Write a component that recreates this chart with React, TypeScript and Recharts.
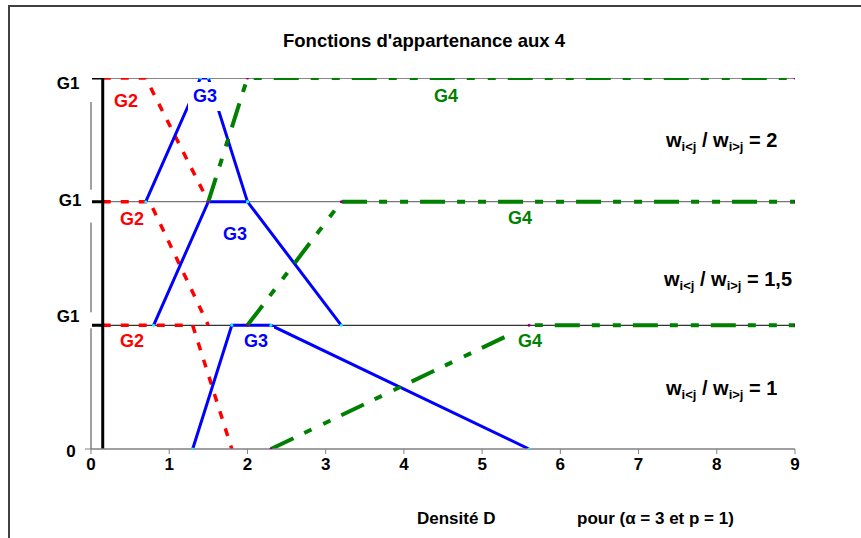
import React from 'react';
import { LineChart, Line, XAxis, YAxis } from 'recharts';

// ---- data ----
const xTicks = [0, 1, 2, 3, 4, 5, 6, 7, 8, 9];
const yTicks = [0, 1, 2, 3];
const yTickLabels = ['0', 'G1', 'G1', 'G1'];

// horizontal reference levels (one per panel)
const level3 = [{ x: 0, y: 3 }, { x: 9, y: 3 }];
const level2 = [{ x: 0, y: 2 }, { x: 9, y: 2 }];
const level1 = [{ x: 0, y: 1 }, { x: 9, y: 1 }];

// G1 membership (black)
const g1Top = [{ x: 0, y: 3 }, { x: 0.15, y: 3 }, { x: 0.15, y: 2 }];
const g1Mid = [{ x: 0, y: 2 }, { x: 0.15, y: 2 }, { x: 0.15, y: 1 }];
const g1Low = [{ x: 0, y: 1 }, { x: 0.15, y: 1 }, { x: 0.15, y: 0 }];

// G2 membership (red dashed)
const g2Top = [{ x: 0.15, y: 3 }, { x: 0.7, y: 3 }, { x: 1.5, y: 2 }];
const g2Mid = [{ x: 0.15, y: 2 }, { x: 0.75, y: 2 }, { x: 1.5, y: 1 }];
const g2Low = [{ x: 0.15, y: 1 }, { x: 1.3, y: 1 }, { x: 1.8, y: 0 }];

// G3 membership (blue)
const g3Top = [{ x: 0.7, y: 2 }, { x: 1.4, y: 3 }, { x: 1.5, y: 3 }, { x: 2, y: 2 }];
const g3Mid = [{ x: 0.8, y: 1 }, { x: 1.5, y: 2 }, { x: 2, y: 2 }, { x: 3.2, y: 1 }];
const g3Low = [{ x: 1.3, y: 0 }, { x: 1.8, y: 1 }, { x: 2.3, y: 1 }, { x: 5.6, y: 0 }];

// G4 membership (green dash-dot)
const g4Top = [{ x: 1.5, y: 2 }, { x: 2, y: 3 }, { x: 9, y: 3 }];
const g4Mid = [{ x: 2, y: 1 }, { x: 3.2, y: 2 }, { x: 9, y: 2 }];
const g4Low = [{ x: 2.3, y: 0 }, { x: 5.6, y: 1 }, { x: 9, y: 1 }];

const FONT = '"Liberation Sans", Arial, Helvetica, sans-serif';
const RED = '#FF0000';
const BLUE = '#0000FF';
const GREEN = '#008000';

// per-tick label placement for the y axis
const yLabelX = [71, 68, 70, 68];
const yLabelBaseline = [8, -3, 4, 11];
const yCover: (null | [number, number])[] = [null, [-13, 3], [-12, 21], [-4, 24]];

const YTick = (props: any) => {
  const { y, payload } = props;
  const i = yTicks.indexOf(payload.value);
  const cover = yCover[i];
  return (
    <g>
      {cover && (
        <rect x={48} y={y + cover[0]} width={44} height={cover[1] - cover[0]} fill="#fff" />
      )}
      {i === 0 && <line x1={85} x2={91} y1={y} y2={y} stroke="#808080" strokeWidth={1} />}
      <text
        x={yLabelX[i]}
        y={y + yLabelBaseline[i]}
        textAnchor="middle"
        fontFamily={FONT}
        fontWeight="bold"
        fontSize={17}
        fill="#000"
      >
        {yTickLabels[i]}
      </text>
    </g>
  );
};

const XTick = (props: any) => {
  const { x, payload } = props;
  return (
    <text x={x} y={470} textAnchor="middle" fontFamily={FONT} fontWeight="bold" fontSize={17} fill="#000">
      {payload.value}
    </text>
  );
};

type LabelProps = { text: string; cx: number; base: number; color: string };
const GLabel = ({ text, cx, base, color }: LabelProps) => (
  <g>
    <rect x={cx - 17} y={base - 20} width={35} height={29} fill="#fff" />
    <text x={cx} y={base} textAnchor="middle" fontFamily={FONT} fontWeight="bold" fontSize={18} fill={color}>
      {text}
    </text>
  </g>
);

const RatioLabel = ({ x, base, value }: { x: number; base: number; value: string }) => (
  <text x={x} y={base} fontFamily={FONT} fontWeight="bold" fontSize={20} fill="#000">
    w<tspan fontSize={13} dy={4}>{'i<j'}</tspan>
    <tspan dy={-4}>{' / w'}</tspan>
    <tspan fontSize={13} dy={4}>{'i>j'}</tspan>
    <tspan dy={-4}>{' = ' + value}</tspan>
  </text>
);

const blueDot = { r: 1.5, fill: '#00ffff', stroke: 'none' };
const greenDot = { r: 1.5, fill: '#800080', stroke: 'none' };

export default function App() {
  return (
    <div style={{ position: 'absolute', left: 0, top: 0, width: 861, height: 538, overflow: 'hidden', background: '#fff' }}>
      <div style={{ position: 'absolute', left: 0, top: 0 }}>
        <LineChart width={861} height={538} margin={{ top: 78, right: 66, left: 0, bottom: 0 }}>
          <XAxis
            type="number"
            dataKey="x"
            domain={[0, 9]}
            ticks={xTicks}
            allowDataOverflow
            height={89}
            axisLine={{ stroke: '#808080', strokeWidth: 1.5 }}
            tickLine={{ stroke: '#808080' }}
            tickSize={5}
            tick={<XTick />}
            interval={0}
          />
          <YAxis
            type="number"
            dataKey="y"
            domain={[0, 3]}
            ticks={yTicks}
            allowDataOverflow
            width={91}
            axisLine={{ stroke: '#808080', strokeWidth: 1.5 }}
            tickLine={false}
            tick={<YTick />}
            interval={0}
          />
          <Line data={level3} dataKey="y" stroke="#111" strokeWidth={1.2} dot={false} isAnimationActive={false} />
          <Line data={level2} dataKey="y" stroke="#777" strokeWidth={1.2} dot={false} isAnimationActive={false} />
          <Line data={level1} dataKey="y" stroke="#333" strokeWidth={1.2} dot={false} isAnimationActive={false} />

          <Line data={g2Top} dataKey="y" stroke={RED} strokeWidth={3.5} strokeDasharray="8 10" dot={false} isAnimationActive={false} />
          <Line data={g2Mid} dataKey="y" stroke={RED} strokeWidth={3.5} strokeDasharray="8 10" dot={false} isAnimationActive={false} />
          <Line data={g2Low} dataKey="y" stroke={RED} strokeWidth={3.5} strokeDasharray="8 10" dot={false} isAnimationActive={false} />

          <Line data={g3Top} dataKey="y" stroke={BLUE} strokeWidth={3} dot={blueDot} isAnimationActive={false} />
          <Line data={g3Mid} dataKey="y" stroke={BLUE} strokeWidth={3} dot={blueDot} isAnimationActive={false} />
          <Line data={g3Low} dataKey="y" stroke={BLUE} strokeWidth={3} dot={blueDot} isAnimationActive={false} />

          <Line data={g4Top} dataKey="y" stroke={GREEN} strokeWidth={4} strokeDasharray="25 12 8 13 8 12" dot={greenDot} isAnimationActive={false} />
          <Line data={g4Mid} dataKey="y" stroke={GREEN} strokeWidth={4} strokeDasharray="25 12 8 13 8 12" dot={greenDot} isAnimationActive={false} />
          <Line data={g4Low} dataKey="y" stroke={GREEN} strokeWidth={4} strokeDasharray="25 12 8 13 8 12" dot={greenDot} isAnimationActive={false} />

          <Line data={g1Top} dataKey="y" stroke="#000" strokeWidth={3} dot={false} isAnimationActive={false} />
          <Line data={g1Mid} dataKey="y" stroke="#000" strokeWidth={3} dot={false} isAnimationActive={false} />
          <Line data={g1Low} dataKey="y" stroke="#000" strokeWidth={3} dot={false} isAnimationActive={false} />
        </LineChart>
      </div>
      <svg width={861} height={538} style={{ position: 'absolute', left: 0, top: 0, pointerEvents: 'none' }}>
        <rect x={9} y={6} width={900} height={600} fill="none" stroke="#404040" strokeWidth={2} />
        <text x={424} y={47} textAnchor="middle" fontFamily={FONT} fontWeight="bold" fontSize={18.5} fill="#000">
          Fonctions d'appartenance aux 4
        </text>

        <GLabel text="G2" cx={126} base={107} color={RED} />
        <GLabel text="G3" cx={205} base={102} color={BLUE} />
        <GLabel text="G4" cx={446} base={102} color={GREEN} />
        <GLabel text="G2" cx={132} base={225} color={RED} />
        <GLabel text="G3" cx={235} base={240} color={BLUE} />
        <GLabel text="G4" cx={520} base={224} color={GREEN} />
        <GLabel text="G2" cx={132} base={347} color={RED} />
        <GLabel text="G3" cx={256} base={347} color={BLUE} />
        <GLabel text="G4" cx={530} base={347} color={GREEN} />

        <RatioLabel x={666} base={147} value="2" />
        <RatioLabel x={664} base={286} value="1,5" />
        <RatioLabel x={666} base={395} value="1" />

        <text x={417} y={524} fontFamily={FONT} fontWeight="bold" fontSize={17} fill="#000">Densité D</text>
        <text x={577} y={524} fontFamily={FONT} fontWeight="bold" fontSize={17} fill="#000">pour (α = 3 et p = 1)</text>
      </svg>
    </div>
  );
}
